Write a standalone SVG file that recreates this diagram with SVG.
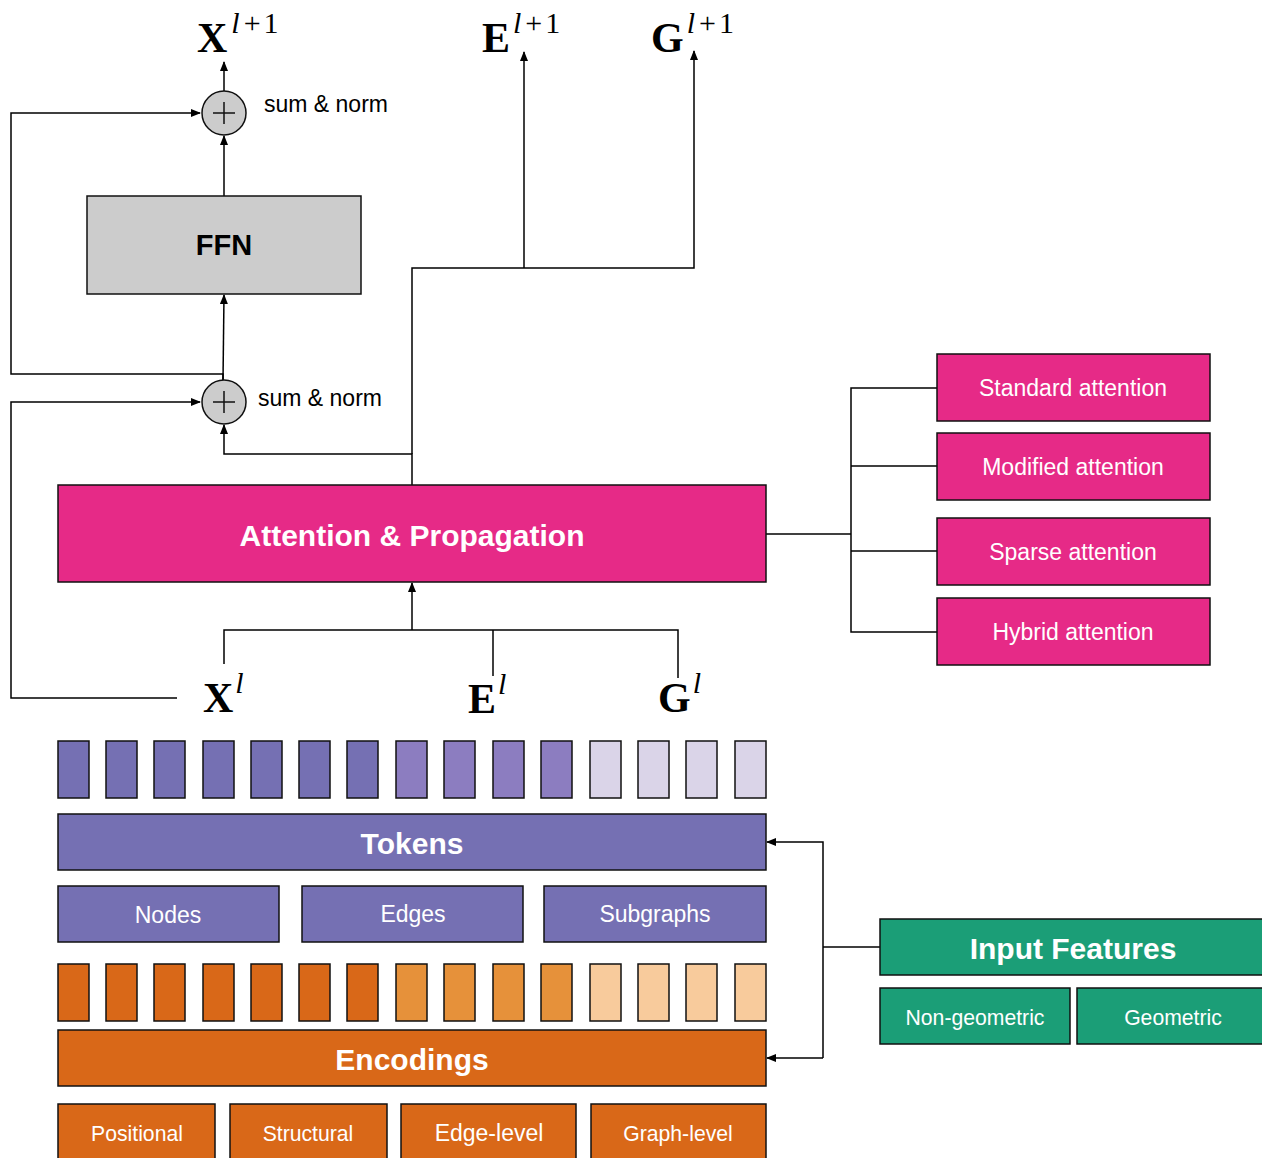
<svg xmlns="http://www.w3.org/2000/svg" width="1262" height="1158" viewBox="0 0 1262 1158">
<style>
.ln{fill:none;stroke:#000;stroke-width:1.5}
.bx{stroke:#111;stroke-width:1.5}
.t{font-family:"Liberation Sans",Arial,sans-serif;fill:#fff;text-anchor:middle;dominant-baseline:central}
.tb{font-weight:bold;font-size:30px}
.ts{font-size:23px}
.tn{font-size:21.2px}
.lab{font-family:"Liberation Sans",Arial,sans-serif;font-size:23px;fill:#000}
.m{font-family:"Liberation Serif","Times New Roman",serif;fill:#000}
.mb{font-weight:bold;font-size:42px}
.sup{font-style:italic;font-size:30px}
.sp{font-size:30px}
.pur{fill:#7570b3}.pur2{fill:#8c7dc0}.pur3{fill:#dad4e8}
.or{fill:#d96818}.or2{fill:#e6913a}.or3{fill:#f8cb9c}
.pk{fill:#e62a87}.gr{fill:#1b9e77}
</style>
<defs>
<marker id="ah" markerWidth="10" markerHeight="8" refX="9" refY="4" orient="auto" markerUnits="userSpaceOnUse">
<path d="M0,0 L10,4 L0,8 Z" fill="#000"/>
</marker>
</defs>

<g id="connectors">
<line class="ln" x1="224" y1="91" x2="224" y2="62" marker-end="url(#ah)"/>
<line class="ln" x1="224" y1="196" x2="224" y2="136" marker-end="url(#ah)"/>
<polyline class="ln" points="223,380 223,374 11,374 11,113 200,113" marker-end="url(#ah)"/>
<line class="ln" x1="223" y1="380" x2="224" y2="295" marker-end="url(#ah)"/>
<polyline class="ln" points="177,698 11,698 11,402 200,402" marker-end="url(#ah)"/>
<polyline class="ln" points="412,485 412,454 224,454 224,425" marker-end="url(#ah)"/>
<polyline class="ln" points="412,454 412,268 694,268 694,51" marker-end="url(#ah)"/>
<line class="ln" x1="524" y1="268" x2="524" y2="52" marker-end="url(#ah)"/>
<line class="ln" x1="766" y1="534" x2="851" y2="534" stroke-width="2.5"/>
<polyline class="ln" points="937,388 851,388 851,632 937,632"/>
<line class="ln" x1="851" y1="466" x2="937" y2="466"/>
<line class="ln" x1="851" y1="551" x2="937" y2="551"/>
<line class="ln" x1="412" y1="630" x2="412" y2="583" marker-end="url(#ah)"/>
<polyline class="ln" points="224,664 224,630 678,630 678,678"/>
<line class="ln" x1="493" y1="630" x2="493" y2="676"/>
<line class="ln" x1="880" y1="947" x2="823" y2="947"/>
<polyline class="ln" points="823,1058 823,842 767,842" marker-end="url(#ah)"/>
<line class="ln" x1="823" y1="1058" x2="767" y2="1058" marker-end="url(#ah)"/>
</g>

<g id="x-out"><text class="m" x="197" y="52"><tspan class="mb">X</tspan><tspan class="sup" dx="4" dy="-19">l</tspan><tspan class="sp" dx="4">+</tspan><tspan class="sp" dx="3">1</tspan></text></g>
<g id="e-out"><text class="m" x="482" y="52"><tspan class="mb">E</tspan><tspan class="sup" dx="3" dy="-19">l</tspan><tspan class="sp" dx="4">+</tspan><tspan class="sp" dx="3">1</tspan></text></g>
<g id="g-out"><text class="m" x="651" y="52"><tspan class="mb">G</tspan><tspan class="sup" dx="3" dy="-19">l</tspan><tspan class="sp" dx="4">+</tspan><tspan class="sp" dx="3">1</tspan></text></g>

<g id="sum1">
<circle cx="224" cy="113" r="22" fill="#cccccc" stroke="#111" stroke-width="1.5"/>
<path d="M213,113 H235 M224,102 V124" stroke="#111" stroke-width="1.5"/>
<text class="lab" x="264" y="112">sum &amp; norm</text>
</g>
<g id="ffn">
<rect class="bx" x="87" y="196" width="274" height="98" fill="#cccccc"/>
<text class="t tb" x="224" y="245" style="fill:#000;font-size:29px">FFN</text>
</g>
<g id="sum2">
<circle cx="224" cy="402" r="22" fill="#cccccc" stroke="#111" stroke-width="1.5"/>
<path d="M213,402 H235 M224,391 V413" stroke="#111" stroke-width="1.5"/>
<text class="lab" x="258" y="406">sum &amp; norm</text>
</g>

<g id="attention">
<rect class="bx pk" x="58" y="485" width="708" height="97"/>
<text class="t tb" x="412" y="535">Attention &amp; Propagation</text>
</g>
<g id="standard"><rect class="bx pk" x="937" y="354" width="273" height="67"/><text class="t ts" x="1073" y="388">Standard attention</text></g>
<g id="modified"><rect class="bx pk" x="937" y="433" width="273" height="67"/><text class="t ts" x="1073" y="467">Modified attention</text></g>
<g id="sparse"><rect class="bx pk" x="937" y="518" width="273" height="67"/><text class="t ts" x="1073" y="552">Sparse attention</text></g>
<g id="hybrid"><rect class="bx pk" x="937" y="598" width="273" height="67"/><text class="t ts" x="1073" y="632">Hybrid attention</text></g>

<g id="x-in"><text class="m" x="203" y="712"><tspan class="mb" font-size="38">X</tspan><tspan class="sup" dx="2" dy="-19">l</tspan></text></g>
<g id="e-in"><text class="m" x="468" y="713"><tspan class="mb" font-size="38">E</tspan><tspan class="sup" dx="2" dy="-19">l</tspan></text></g>
<g id="g-in"><text class="m" x="658" y="712"><tspan class="mb" font-size="38">G</tspan><tspan class="sup" dx="2" dy="-19">l</tspan></text></g>

<g id="token-cells">
<rect class="bx pur" x="58" y="741" width="31" height="57"/>
<rect class="bx pur" x="106" y="741" width="31" height="57"/>
<rect class="bx pur" x="154" y="741" width="31" height="57"/>
<rect class="bx pur" x="203" y="741" width="31" height="57"/>
<rect class="bx pur" x="251" y="741" width="31" height="57"/>
<rect class="bx pur" x="299" y="741" width="31" height="57"/>
<rect class="bx pur" x="347" y="741" width="31" height="57"/>
<rect class="bx pur2" x="396" y="741" width="31" height="57"/>
<rect class="bx pur2" x="444" y="741" width="31" height="57"/>
<rect class="bx pur2" x="493" y="741" width="31" height="57"/>
<rect class="bx pur2" x="541" y="741" width="31" height="57"/>
<rect class="bx pur3" x="590" y="741" width="31" height="57"/>
<rect class="bx pur3" x="638" y="741" width="31" height="57"/>
<rect class="bx pur3" x="686" y="741" width="31" height="57"/>
<rect class="bx pur3" x="735" y="741" width="31" height="57"/>
</g>
<g id="tokens"><rect class="bx pur" x="58" y="814" width="708" height="56"/><text class="t tb" x="412" y="843">Tokens</text></g>
<g id="nodes"><rect class="bx pur" x="58" y="886" width="221" height="56"/><text class="t ts" x="168" y="915">Nodes</text></g>
<g id="edges"><rect class="bx pur" x="302" y="886" width="221" height="56"/><text class="t ts" x="413" y="914">Edges</text></g>
<g id="subgraphs"><rect class="bx pur" x="544" y="886" width="222" height="56"/><text class="t ts" x="655" y="914">Subgraphs</text></g>

<g id="encoding-cells">
<rect class="bx or" x="58" y="964" width="31" height="57"/>
<rect class="bx or" x="106" y="964" width="31" height="57"/>
<rect class="bx or" x="154" y="964" width="31" height="57"/>
<rect class="bx or" x="203" y="964" width="31" height="57"/>
<rect class="bx or" x="251" y="964" width="31" height="57"/>
<rect class="bx or" x="299" y="964" width="31" height="57"/>
<rect class="bx or" x="347" y="964" width="31" height="57"/>
<rect class="bx or2" x="396" y="964" width="31" height="57"/>
<rect class="bx or2" x="444" y="964" width="31" height="57"/>
<rect class="bx or2" x="493" y="964" width="31" height="57"/>
<rect class="bx or2" x="541" y="964" width="31" height="57"/>
<rect class="bx or3" x="590" y="964" width="31" height="57"/>
<rect class="bx or3" x="638" y="964" width="31" height="57"/>
<rect class="bx or3" x="686" y="964" width="31" height="57"/>
<rect class="bx or3" x="735" y="964" width="31" height="57"/>
</g>
<g id="encodings"><rect class="bx or" x="58" y="1030" width="708" height="56"/><text class="t tb" x="412" y="1059">Encodings</text></g>
<g id="positional"><rect class="bx or" x="58" y="1104" width="157" height="60"/><text class="t tn" x="137" y="1133">Positional</text></g>
<g id="structural"><rect class="bx or" x="230" y="1104" width="157" height="60"/><text class="t tn" x="308" y="1133">Structural</text></g>
<g id="edge-level"><rect class="bx or" x="401" y="1104" width="175" height="60"/><text class="t ts" x="489" y="1133">Edge-level</text></g>
<g id="graph-level"><rect class="bx or" x="591" y="1104" width="175" height="60"/><text class="t tn" x="678" y="1133">Graph-level</text></g>

<g id="input-features"><rect class="bx gr" x="880" y="919" width="390" height="56"/><text class="t tb" x="1073" y="948">Input Features</text></g>
<g id="non-geometric"><rect class="bx gr" x="880" y="988" width="190" height="56"/><text class="t tn" x="975" y="1017">Non-geometric</text></g>
<g id="geometric"><rect class="bx gr" x="1077" y="988" width="195" height="56"/><text class="t tn" x="1173" y="1017">Geometric</text></g>
</svg>
